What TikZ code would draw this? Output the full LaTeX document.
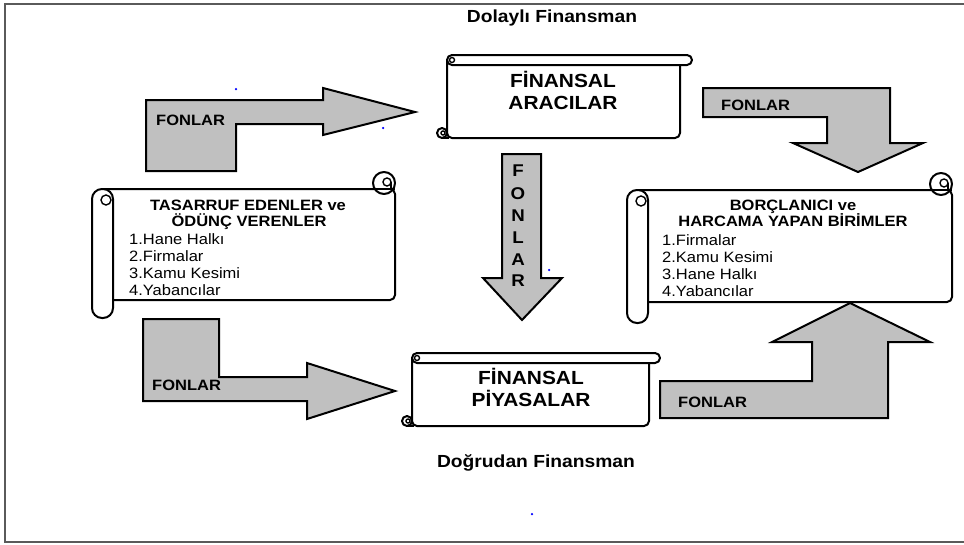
\documentclass[tikz,border=0pt]{standalone}
\usepackage{fontspec}
\setmainfont{Liberation Sans}[FakeStretch=1.1]
\definecolor{arrgray}{RGB}{192,192,192}
\definecolor{framegray}{RGB}{90,90,90}
\tikzset{
 arrowshape/.style={draw=black, line width=2pt, fill=arrgray, line join=miter},
 scrollline/.style={draw=black, line width=2pt, fill=white, line join=round},
 thinline/.style={draw=black, line width=1.4pt},
 txt/.style={inner sep=0pt, yshift=-2.5pt},
 ttl/.style={txt, anchor=mid, font=\bfseries\fontsize{17.5}{20}\selectfont},
 boxttl/.style={txt, anchor=mid, font=\bfseries\fontsize{19}{22}\selectfont},
 subttl/.style={txt, anchor=mid, font=\bfseries\fontsize{15}{17}\selectfont},
 listitem/.style={txt, anchor=mid west, font=\fontsize{15}{17}\selectfont},
 fonlar/.style={txt, anchor=mid west, font=\bfseries\fontsize{15}{17}\selectfont},
 vlet/.style={txt, anchor=mid, font=\bfseries\fontsize{17}{19}\selectfont},
 bluedot/.style={fill=blue, inner sep=0pt, minimum size=2.5pt, circle}
}
% horizontal scroll: #1 left, #2 body right, #3 roll right, #4 roll top, #5 bottom
\newcommand\hscrollshape[5]{%
 \draw[scrollline, rounded corners=5pt] (#1,#4+5) -- (#1,#5) -- (#2,#5) -- (#2,#4+5);
 \draw[scrollline, rounded corners=5pt] (#1,#4) rectangle (#3,#4+10);
 \draw[thinline] (#1+5,#4+5) circle[radius=2.5pt];
 \draw[scrollline] (#1-5,#5-5) circle[radius=5pt];
 \draw[thinline] (#1-4,#5-5) circle[radius=2pt];
 \draw[scrollline] (#1-5,#5) -- (#1+2,#5);
}
% vertical scroll: #1 roll left, #2 body right, #3 body top, #4 body bottom, #5 roll bottom
\newcommand\vscrollshape[5]{%
 \draw[scrollline, rounded corners=5pt] (#1+10,#3) -- (#2,#3) -- (#2,#4) -- (#1+21,#4);
 \draw[scrollline] (#2-11,#3-6) circle[radius=11pt];
 \draw[scrollline] (#2-22,#3) -- (#2,#3);
 \draw[thinline] (#2-8,#3-7) circle[radius=4pt];
 \draw[thinline] (#2-4,#3-7) -- (#2-4,#3);
 \draw[scrollline, rounded corners=10pt] (#1,#3) rectangle (#1+21,#5);
 \draw[thinline] (#1+14,#3+11) circle[radius=5pt];
}
\begin{document}
\begin{tikzpicture}[x=1pt, y=-1pt]
\useasboundingbox (0,0) rectangle (964,544);
\fill[white] (0,0) rectangle (964,544);
\draw[framegray, line width=1.6pt] (966,4) -- (5,4) -- (5,542) -- (966,542);

% titles
\node[ttl] (dolayli) at (552,17) {Dolaylı Finansman};
\node[ttl] (dogrudan) at (536,462) {Doğrudan Finansman};

% arrows
\draw[arrowshape] (146,100) -- (323,100) -- (323,88) -- (415,112) -- (323,135) -- (323,124) -- (236,124) -- (236,171) -- (146,171) -- cycle;
\draw[arrowshape] (703,88) -- (890,88) -- (890,143) -- (923,143) -- (858,172) -- (793,143) -- (827,143) -- (827,117) -- (703,117) -- cycle;
\draw[arrowshape] (143,319) -- (219,319) -- (219,377) -- (307,377) -- (307,363) -- (395,391) -- (307,419) -- (307,401) -- (143,401) -- cycle;
\draw[arrowshape] (660,418) -- (660,381) -- (812,381) -- (812,342) -- (772,342) -- (850,303) -- (930,342) -- (888,342) -- (888,418) -- cycle;
\draw[arrowshape] (502,154) -- (541,154) -- (541,278) -- (562,278) -- (522,320) -- (483,278) -- (502,278) -- cycle;

\node[fonlar] (f1) at (156,120) {FONLAR};
\node[fonlar] (f2) at (721,105) {FONLAR};
\node[fonlar] (f3) at (152,385) {FONLAR};
\node[fonlar] (f4) at (678,402) {FONLAR};
\node[vlet] (v1) at (518,171) {F};
\node[vlet] (v2) at (518,194) {O};
\node[vlet] (v3) at (518,216) {N};
\node[vlet] (v4) at (518,238) {L};
\node[vlet] (v5) at (518,260) {A};
\node[vlet] (v6) at (518,281) {R};

% scrolls
\hscrollshape{447}{680}{692}{55}{138}
\hscrollshape{412}{649}{660}{353}{426}
\vscrollshape{92}{395}{189}{300}{318}
\vscrollshape{627}{952}{190}{302}{323}

\node[boxttl] (fa1) at (563,82) {FİNANSAL};
\node[boxttl] (fa2) at (563,104) {ARACILAR};
\node[boxttl] (fp1) at (531,379) {FİNANSAL};
\node[boxttl] (fp2) at (531,401) {PİYASALAR};

\node[subttl] (t1) at (248,205) {TASARRUF EDENLER ve};
\node[subttl] (t2) at (249,221) {ÖDÜNÇ VERENLER};
\node[listitem] (t3) at (129,239) {1.Hane Halkı};
\node[listitem] (t4) at (129,256) {2.Firmalar};
\node[listitem] (t5) at (129,273) {3.Kamu Kesimi};
\node[listitem] (t6) at (129,290) {4.Yabancılar};

\node[subttl] (b1) at (793,205) {BORÇLANICI ve};
\node[subttl] (b2) at (793,221) {HARCAMA YAPAN BİRİMLER};
\node[listitem] (b3) at (662,240) {1.Firmalar};
\node[listitem] (b4) at (662,257) {2.Kamu Kesimi};
\node[listitem] (b5) at (662,274) {3.Hane Halkı};
\node[listitem] (b6) at (662,291) {4.Yabancılar};

% stray dots
\node[bluedot] (d1) at (236,89) {};
\node[bluedot] (d2) at (383,128) {};
\node[bluedot] (d3) at (549,270) {};
\node[bluedot] (d4) at (532,514) {};
\end{tikzpicture}
\end{document}
